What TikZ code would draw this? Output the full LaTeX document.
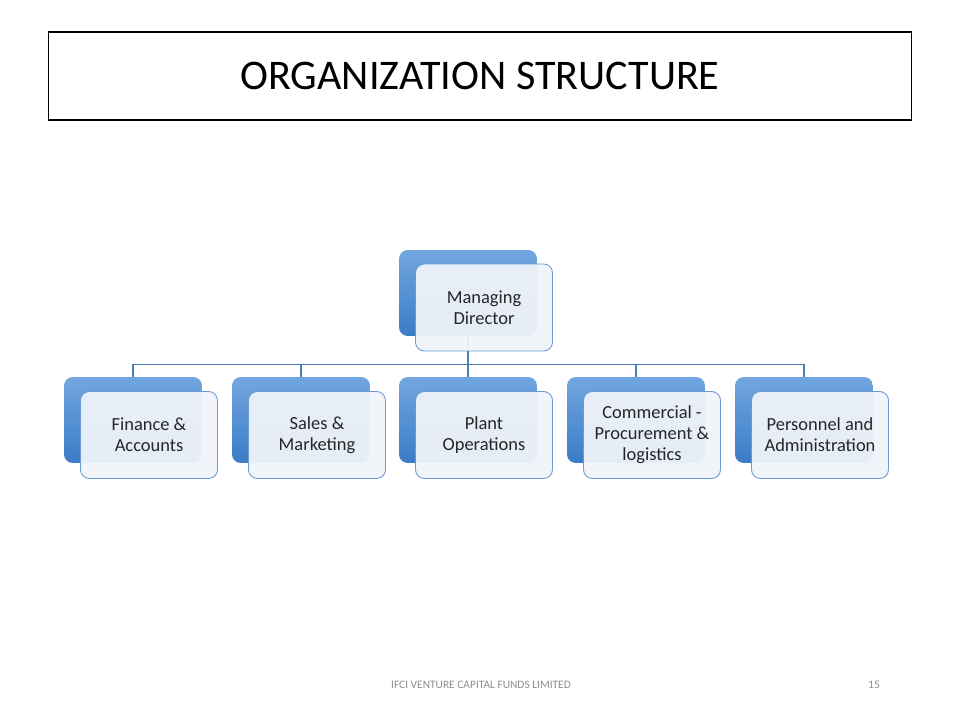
\documentclass[tikz,border=0pt]{standalone}
\usepackage{fontspec}
\setmainfont{Carlito}
\definecolor{backTop}{HTML}{72A6E0}
\definecolor{backBot}{HTML}{3A7CC6}
\definecolor{frontFill}{HTML}{F0F4FA}
\definecolor{frontLine}{HTML}{6A9AD2}
\definecolor{linkBlue}{HTML}{4A7EBB}
\begin{document}
\begin{tikzpicture}[x=0.02cm,y=-0.02cm,
  back/.style={rounded corners=5pt,top color=backTop,bottom color=backBot,
    minimum width=2.76cm,minimum height=1.72cm,inner sep=0pt},
  front/.style={rounded corners=5pt,draw=frontLine,line width=0.5pt,
    fill=frontFill,fill opacity=0.94,text opacity=1,text=black!85,
    minimum width=2.74cm,minimum height=1.74cm,inner sep=1pt,
    align=center,font=\fontsize{10.5}{12}\selectfont},
  link/.style={draw=linkBlue,line width=0.6pt}]
\useasboundingbox (0,0) rectangle (960,720);
% title
\node[draw=black,line width=0.6pt,minimum width=17.28cm,minimum height=1.76cm,
  font=\fontsize{24}{28}\selectfont] (title) at (480,76) {ORGANIZATION STRUCTURE};
% back boxes
\node[back] (md-back) at (468,293) {};
\node[back] (fa-back) at (133,420) {};
\node[back] (sm-back) at (301,420) {};
\node[back] (po-back) at (468,420) {};
\node[back] (cp-back) at (636,420) {};
\node[back] (pa-back) at (804,420) {};
% links
\draw[link] (md-back.south) -- ++(0,28) coordinate (hub);
\draw[link] (hub) -| (fa-back.north);
\draw[link] (hub) -| (sm-back.north);
\draw[link] (hub) -- (po-back.north);
\draw[link] (hub) -| (cp-back.north);
\draw[link] (hub) -| (pa-back.north);
% front boxes
\node[front] (md) at (484,307.5) {Managing\\Director};
\node[front] (fa) at (149,435) {Finance \&\\Accounts};
\node[front] (sm) at (317,435) {Sales \&\\Marketing};
\node[front] (po) at (484,435) {Plant\\Operations};
\node[front] (cp) at (652,435) {Commercial -\\Procurement \&\\logistics};
\node[front] (pa) at (820,435) {Personnel and\\Administration};
% footer
\node[text=black!45,font=\fontsize{6.5}{8}\selectfont] (firm) at (481,685)
  {IFCI VENTURE CAPITAL FUNDS LIMITED};
\node[text=black!45,font=\fontsize{6.5}{8}\selectfont,anchor=east] (page) at (886,685) {15};
\end{tikzpicture}
\end{document}
